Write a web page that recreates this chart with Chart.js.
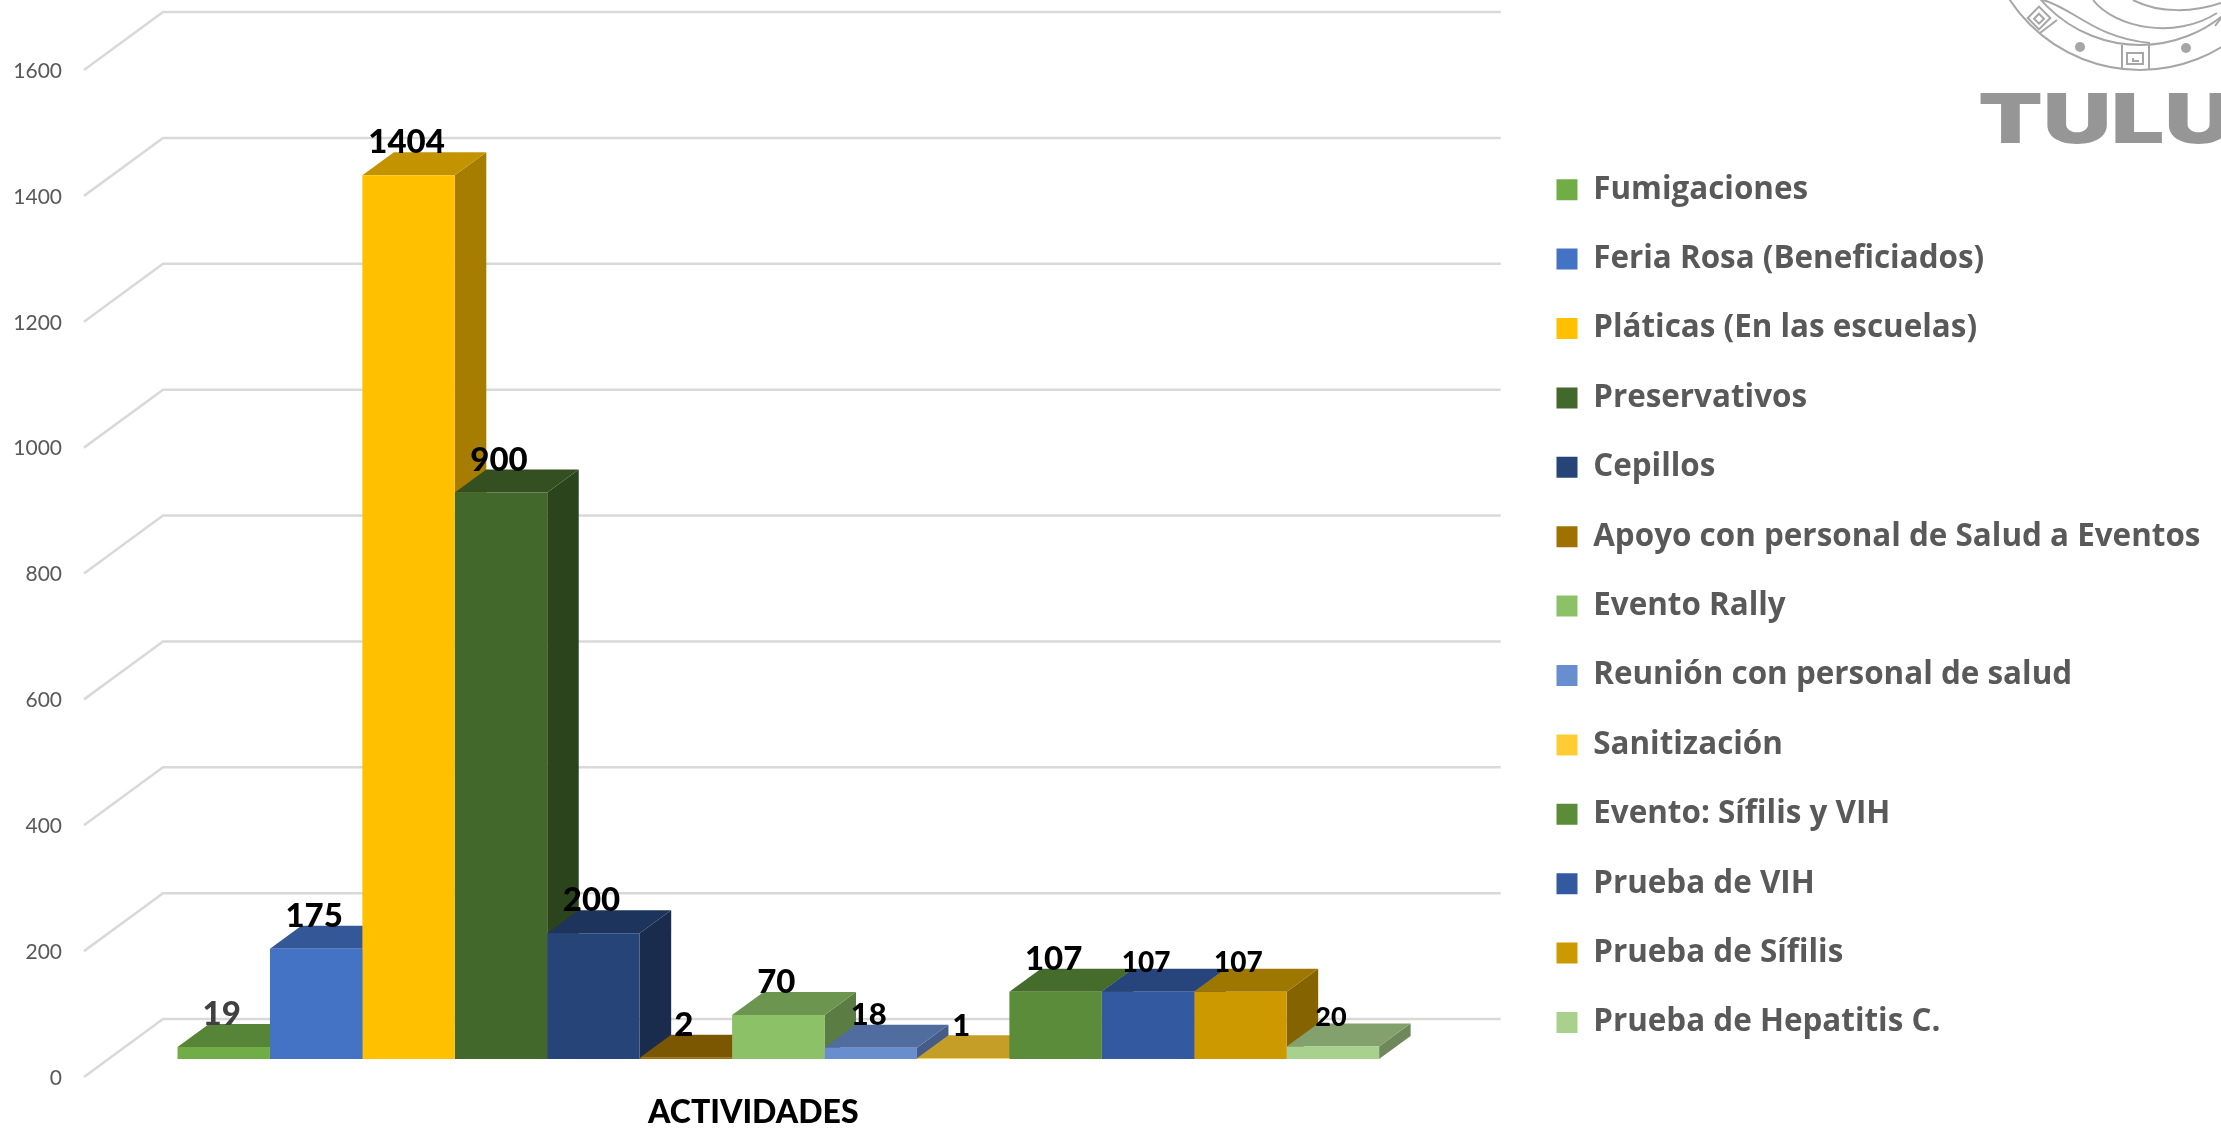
<!DOCTYPE html>
<html>
<head>
<meta charset="utf-8">
<title>Actividades</title>
<script src="https://cdn.jsdelivr.net/npm/chart.js@4/dist/chart.umd.min.js"></script>
<style>
  html, body { margin: 0; padding: 0; background: #fff; overflow: hidden; }
  canvas { display: block; }
</style>
</head>
<body>
<canvas id="actividades" width="2221" height="1128" style="width:2221px;height:1128px"></canvas>
<script>
const categories = ['ACTIVIDADES'];
const seriesNames = [
    'Fumigaciones', 'Feria Rosa (Beneficiados)', 'Pláticas (En las escuelas)', 'Preservativos',
    'Cepillos', 'Apoyo con personal de Salud a Eventos', 'Evento Rally', 'Reunión con personal de salud',
    'Sanitización', 'Evento: Sífilis y VIH', 'Prueba de VIH', 'Prueba de Sífilis', 'Prueba de Hepatitis C.'
];
const seriesValues = [19, 175, 1404, 900, 200, 2, 70, 18, 1, 107, 107, 107, 20];
const seriesColors = [
    '#70ad47', '#4472c4', '#ffc000', '#43682b', '#264478', '#9e7100', '#8cc168',
    '#698ed0', '#ffcd33', '#5b8c39', '#335aa1', '#cc9a00', '#a9d18e'
];
const labelSizes = [33, 33, 33, 33, 33, 33, 33, 31, 31, 33, 28, 28, 27];
const labelColors = ['#404040', '#000', '#000', '#000', '#000', '#000', '#000', '#000', '#000', '#000', '#000', '#000', '#000'];

const depth = { x: 31.5, y: 23 };
const gridColor = '#d9d9d9';

function shade(hex, k) {
    const n = parseInt(hex.slice(1), 16);
    return `rgb(${Math.round((n >> 16) * k)}, ${Math.round(((n >> 8) & 255) * k)}, ${Math.round((n & 255) * k)})`;
}

function poly(ctx, pts, fill) {
    ctx.beginPath();
    pts.forEach((p, i) => i ? ctx.lineTo(p[0], p[1]) : ctx.moveTo(p[0], p[1]));
    ctx.closePath();
    ctx.fillStyle = fill;
    ctx.fill();
}

function drawLogo(ctx) {
    ctx.save();
    ctx.strokeStyle = '#a6a6a6';
    ctx.fillStyle = '#a6a6a6';
    ctx.lineWidth = 2;
    [156, 131].forEach(r => {
        ctx.beginPath();
        ctx.arc(2140, -86, r, 0, Math.PI);
        ctx.stroke();
    });
    const lines = [
        [[2057, 20], [2040, 33]],
        [[2122, 45], [2122, 69]],
        [[2149, 45], [2149, 69]],
        [[2221, 18], [2215, 26]]
    ];
    lines.forEach(l => {
        ctx.beginPath();
        ctx.moveTo(l[0][0], l[0][1]);
        ctx.lineTo(l[1][0], l[1][1]);
        ctx.stroke();
    });
    const waves = [
        [[2043, 0], [2073, 8], [2095, 38], [2150, 43]],
        [[2093, 0], [2115, 28], [2175, 40], [2217, 13]],
        [[2133, 0], [2160, 14], [2195, 12], [2221, 3]]
    ];
    waves.forEach(w => {
        ctx.beginPath();
        ctx.moveTo(w[0][0], w[0][1]);
        ctx.bezierCurveTo(w[1][0], w[1][1], w[2][0], w[2][1], w[3][0], w[3][1]);
        ctx.stroke();
    });
    // greca squares
    ctx.strokeRect(2127, 53, 16, 11);
    ctx.beginPath();
    ctx.moveTo(2133, 58); ctx.lineTo(2133, 61); ctx.lineTo(2139, 61);
    ctx.stroke();
    ctx.save();
    ctx.translate(2039, 18);
    ctx.rotate(Math.PI / 4);
    ctx.strokeRect(-8, -8, 16, 16);
    ctx.strokeRect(-3, -3, 7, 7);
    ctx.restore();
    [[2080, 47], [2186, 48]].forEach(d => {
        ctx.beginPath();
        ctx.arc(d[0], d[1], 5, 0, Math.PI * 2);
        ctx.fill();
    });
    // TULUM wordmark, runs off the right side of the picture
    ctx.fillStyle = '#969696';
    ctx.strokeStyle = '#969696';
    ctx.font = '900 69px Inter';
    ctx.textBaseline = 'alphabetic';
    ctx.textAlign = 'left';
    ctx.translate(1978, 143);
    ctx.scale(1.37, 1);
    ctx.fillText('TULUM', 0, 0);
    ctx.restore();
}

const bars3d = {
    id: 'bars3d',
    afterLayout(chart) {
        // the layout caps the legend width, so place it by hand
        chart.legend.left = 1518.5;
        chart.legend.right = 2221;
        chart.legend.top = 136;
        chart.legend.bottom = 1128;
    },
    beforeDatasetsDraw(chart) {
        const { ctx, chartArea, scales } = chart;
        // walls: front plane 18px below the bars, back plane 40px above
        ctx.save();
        ctx.strokeStyle = gridColor;
        ctx.lineWidth = 2.5;
        scales.y.ticks.forEach(t => {
            const py = scales.y.getPixelForValue(t.value);
            ctx.beginPath();
            ctx.moveTo(chartArea.left + 14, py + 18);
            ctx.lineTo(chartArea.left + 93, py - 40);
            ctx.lineTo(chartArea.right + 14, py - 40);
            ctx.stroke();
        });
        // sides and tops left to right, the library paints the fronts after this
        seriesValues.forEach((v, i) => {
            const b = chart.getDatasetMeta(i).data[0];
            const l = b.x - b.width / 2, r = b.x + b.width / 2;
            poly(ctx, [[r, b.y], [r + depth.x, b.y - depth.y], [r + depth.x, b.base - depth.y], [r, b.base]], shade(seriesColors[i], 0.65));
            poly(ctx, [[l, b.y], [l + depth.x, b.y - depth.y], [r + depth.x, b.y - depth.y], [r, b.y]], shade(seriesColors[i], 0.77));
        });
        ctx.restore();
    },
    afterDatasetsDraw(chart) {
        const { ctx } = chart;
        ctx.save();
        ctx.textAlign = 'center';
        ctx.textBaseline = 'middle';
        seriesValues.forEach((v, i) => {
            const b = chart.getDatasetMeta(i).data[0];
            ctx.font = `900 ${labelSizes[i]}px Lato`;
            ctx.fillStyle = labelColors[i];
            ctx.fillText(v, b.x - 2, b.y - (labelSizes[i] < 30 ? 29 : 32.5));
        });
        ctx.restore();
        drawLogo(ctx);
    }
};

new Chart(document.querySelector('#actividades'), {
    type: 'bar',
    data: {
        labels: categories,
        datasets: seriesNames.map((name, i) => ({
            label: name,
            data: [seriesValues[i]],
            backgroundColor: seriesColors[i],
            borderWidth: 0,
            barPercentage: 1,
            categoryPercentage: 0.8482
        }))
    },
    options: {
        responsive: false,
        animation: false,
        layout: { padding: { top: 52, left: 11, right: 242.5 } },
        plugins: {
            tooltip: { enabled: false },
            legend: {
                position: 'right',
                align: 'start',
                labels: {
                    boxWidth: 21,
                    boxHeight: 21,
                    padding: 38,
                    color: '#595959',
                    font: { family: 'Open Sans', weight: 'bold', size: 31.4 }
                }
            }
        },
        scales: {
            x: {
                grid: { display: false },
                border: { display: false },
                afterFit(scale) { scale.height = 69; },
                ticks: {
                    padding: 26,
                    labelOffset: -25,
                    color: '#000',
                    font: { family: 'Lato', weight: '900', size: 32 }
                }
            },
            y: {
                min: 0,
                max: 1600,
                grid: { display: false, drawTicks: false },
                border: { display: false },
                afterFit(scale) { scale.width = 59; },
                ticks: {
                    stepSize: 200,
                    padding: 8,
                    labelOffset: 19,
                    format: { useGrouping: false },
                    color: '#595959',
                    font: { family: 'Lato', size: 21 }
                }
            }
        }
    },
    plugins: [bars3d]
});
</script>
</body>
</html>
